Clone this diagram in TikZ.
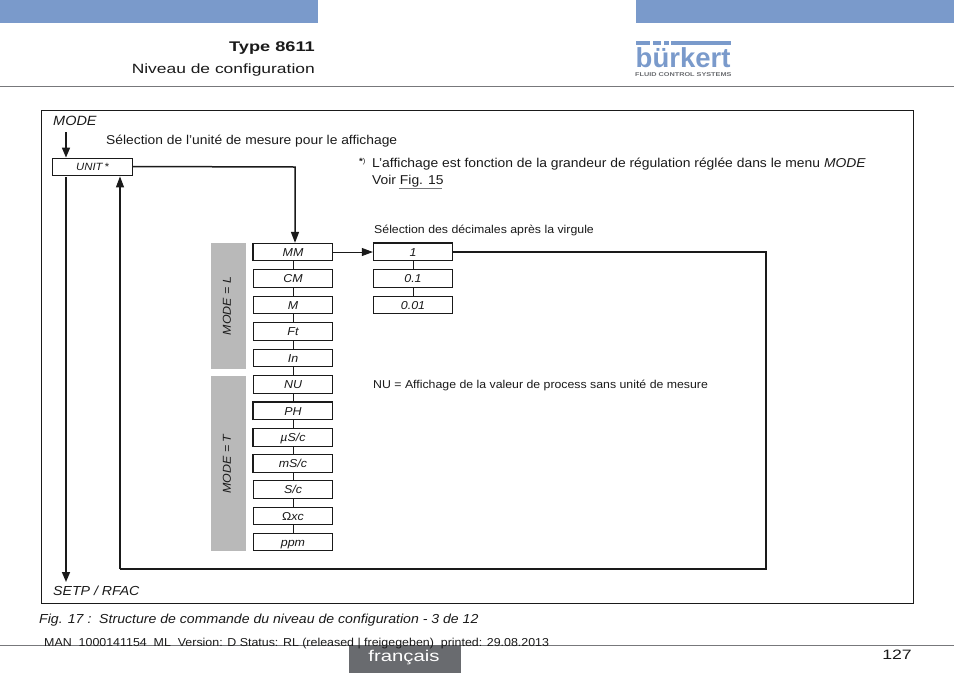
\documentclass[tikz,border=0pt]{standalone}
\usepackage{fontspec}
\setmainfont[FakeStretch=1.08]{Liberation Sans}
\newfontfamily\widefont[FakeStretch=1.3]{Liberation Sans}
\newfontfamily\plainfont{Liberation Sans}
\usetikzlibrary{arrows.meta}
\definecolor{barblue}{HTML}{7A9ACB}
\definecolor{footgrey}{HTML}{696B6F}
\definecolor{rulegrey}{HTML}{77787B}
\definecolor{modegrey}{HTML}{B9B9B9}
\definecolor{ink}{HTML}{1A1A1A}
\tikzset{
  menubox/.style={draw=ink,line width=0.8pt,fill=white,minimum width=79.5pt,minimum height=17.5pt,inner sep=0pt,text height=8.2pt,text depth=0pt,font=\fontsize{11.5}{12}\selectfont\itshape,text=ink},
  lbl/.style={inner sep=0pt,anchor=base west,text=ink},
  small/.style={font=\fontsize{11.5}{13}\selectfont},
  thickline/.style={draw=ink,line width=1.5pt},
  thinline/.style={draw=ink,line width=0.9pt},
  edgeline/.style={draw=ink,line width=1.4pt},
  tip/.style={-{Triangle[length=10pt,width=8pt]}},
  tiptwo/.style={-{Triangle[length=11pt,width=8pt]}},
  modeband/.style={fill=modegrey,draw=none}
}
\begin{document}
\begin{tikzpicture}[x=1pt,y=-1pt]
\useasboundingbox (0,0) rectangle (954,673);
% header and footer
\fill[barblue] (0,0) rectangle (318,23);
\fill[barblue] (636,0) rectangle (954,23);
\draw[rulegrey,line width=0.8pt] (0,86) -- (954,86);
\draw[rulegrey,line width=0.8pt] (0,645) -- (954,645);
\fill[footgrey] (349,645) rectangle (461,673);
\node[lbl,anchor=base east] (typehead) at (315,51) {\widefont\fontsize{14}{15}\selectfont\bfseries Type 8611};
\node[lbl,anchor=base east] (nivhead) at (315,73) {\widefont\fontsize{13.4}{15}\selectfont Niveau de configuration};
% logo
\fill[barblue] (636,41) rectangle (650,45);
\fill[barblue] (653,41) rectangle (661,45);
\fill[barblue] (664,41) rectangle (669,45);
\fill[barblue] (671,41) rectangle (731,45);
\node[inner sep=0pt,anchor=base west,text=barblue] (logotext) at (635.5,67) {\plainfont\fontsize{27.5}{28}\selectfont\bfseries b\"urkert};
\node[inner sep=0pt,anchor=base west,text=footgrey] (logosub) at (635,76) {\widefont\fontsize{5.6}{6}\selectfont\bfseries FLUID CONTROL SYSTEMS};
% frame
\draw[ink,line width=0.8pt] (41,110) rectangle (913,603);
% grey bands
\fill[modeband] (211,243) rectangle (246,369);
\fill[modeband] (211,376) rectangle (246,551);
\node[small,rotate=90,text=ink,inner sep=0pt] (model) at (227,306) {\itshape MODE = L};
\node[small,rotate=90,text=ink,inner sep=0pt] (modet) at (227,464) {\itshape MODE = T};
% boxes
\node[menubox,minimum height=17pt,text height=7.4pt,font=\fontsize{10.5}{12}\selectfont\itshape] (unit) at (92.5,166.5) {UNIT\,*};
\foreach \nm/\txt/\yy in {mm/MM/252,cm/CM/278.5,m/M/305,ft/Ft/331.5,in/In/358,nu/NU/384.5,ph/PH/411,us/{µS/c}/437.5,ms/{mS/c}/463.5,sc/{S/c}/489.5,oh/{{\upshape Ω}xc}/516,ppm/ppm/542}
  \node[menubox] (\nm) at (293,\yy) {\txt};
\foreach \nm/\txt/\yy in {d1/1/252,d2/0.1/278.5,d3/0.01/305}
  \node[menubox] (\nm) at (413,\yy) {\txt};
% links between boxes
\foreach \a/\b in {mm/cm,cm/m,m/ft,ft/in,in/nu,nu/ph,ph/us,us/ms,ms/sc,sc/oh,oh/ppm,d1/d2,d2/d3}
  \draw[thinline] (\a) -- (\b);
% heavier box edges
\draw[edgeline] (mm.north west) -- (mm.south west);
\draw[edgeline] (d1.north west) -- (d1.north east);
\draw[edgeline] (nu.south west) -- (nu.south east);
\draw[edgeline] (ph.south west) -- (ph.north west) -- (ph.north east);
\draw[edgeline] (us.north west) -- (us.south west);
\draw[edgeline] (ms.north west) -- (ms.south west);
\draw[edgeline] (sc.north west) -- (sc.north east);
% free ends
\coordinate (modein) at (66,132);
\coordinate (setpend) at (66,582);
\coordinate (unitcorner) at (295,167);
\coordinate (retright) at (766,252);
\coordinate (retbottom) at (766,569);
\coordinate (retleft) at (120,569);
% connectors
\draw[thickline,tip] (modein) -- (modein |- unit.north);
\draw[thickline,tip] ([yshift=-2pt]unit.south -| setpend) -- (setpend);
\draw[thickline,tiptwo] (unit.east) -- (unitcorner) -- (unitcorner |- mm.north);
\draw[thinline,tiptwo] (mm.east) -- (d1.west);
\draw[thickline,line width=1.3pt] (d1.east) -- (retright) -- (retbottom) -- (retleft);
\draw[thickline,line width=1.1pt,tiptwo] (retleft) -- ([yshift=-1pt]retleft |- unit.south);
% text
\node[lbl,font=\fontsize{13.4}{15}\selectfont] (modelbl) at (53,125) {\itshape MODE};
\node[lbl,font=\fontsize{12.8}{15}\selectfont] (sel) at (106,144.5) {Sélection de l'unité de mesure pour le affichage};
\node[lbl,font=\fontsize{9}{9}\selectfont\bfseries] (star) at (359,164) {*\raisebox{0.5pt}{\fontsize{7}{7}\selectfont\mdseries)}};
\node[lbl,font=\fontsize{12.85}{15}\selectfont] (note) at (372,167) {L'affichage est fonction de la grandeur de régulation réglée dans le menu {\itshape MODE}};
\node[lbl,font=\fontsize{12.85}{15}\selectfont] (voir) at (372,184) {Voir Fig. 15};
\draw[rulegrey,line width=0.5pt] (399,188.5) -- (442,188.5);
\node[lbl,font=\fontsize{11.4}{13}\selectfont] (dec) at (374,233) {Sélection des décimales après la virgule};
\node[lbl,font=\fontsize{11.4}{13}\selectfont] (nutext) at (373,388) {NU = Affichage de la valeur de process sans unité de mesure};
\node[lbl,font=\fontsize{13.1}{15}\selectfont] (setp) at (53,595) {\itshape SETP / RFAC};
\node[lbl,font=\fontsize{13.05}{15}\selectfont] (figcap) at (39,623) {\itshape Fig. 17 :\ \ Structure de commande du niveau de configuration - 3 de 12};
\node[lbl,font=\fontsize{11.5}{13}\selectfont] (man) at (44,646.5) {MAN\ \ 1000141154\ \ ML\ \ Version: D Status: RL (released | freigegeben)\ \ printed: 29.08.2013};
\node[inner sep=0pt,anchor=base,text=white] (fr) at (404,661) {\widefont\fontsize{15.6}{16}\selectfont français};
\node[lbl,anchor=base east] (page) at (912,659) {\widefont\fontsize{13.6}{15}\selectfont 127};
\end{tikzpicture}
\end{document}
